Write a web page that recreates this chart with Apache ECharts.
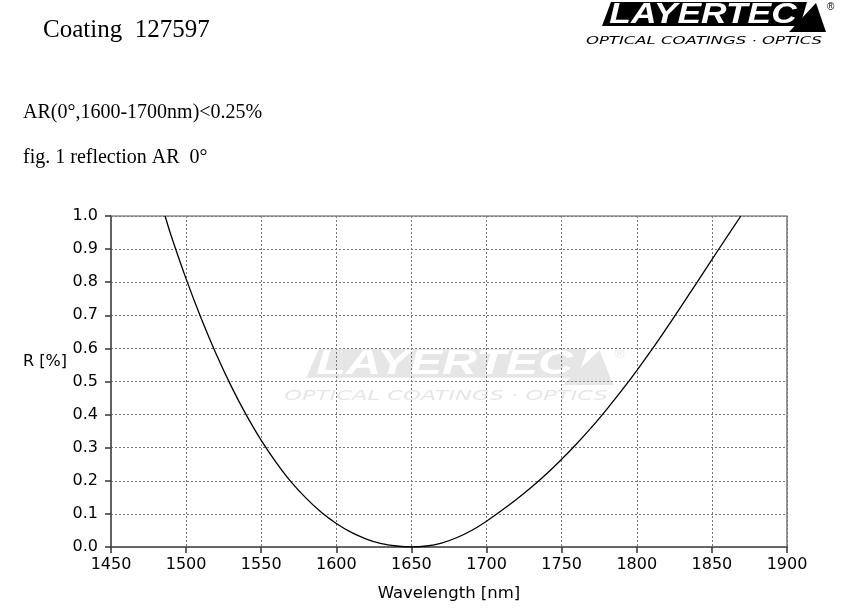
<!DOCTYPE html>
<html>
<head>
<meta charset="utf-8">
<script src="https://cdn.jsdelivr.net/npm/echarts@6/dist/echarts.min.js"></script>
<style>
html,body{margin:0;padding:0;background:#fff;}
#chart{width:843px;height:612px;}
</style>
</head>
<body>
<div id="chart"></div>
<script>
// ---- data ----
var wavelengths = [1486, 1490, 1500, 1510, 1520, 1530, 1540, 1550, 1560, 1570, 1580, 1590, 1600, 1610, 1620, 1630, 1640, 1650, 1660, 1670, 1680, 1690, 1700, 1710, 1720, 1730, 1740, 1750, 1760, 1770, 1780, 1790, 1800, 1810, 1820, 1830, 1840, 1850, 1860, 1869.3];
var reflectance = [1.0, 0.941, 0.81, 0.691, 0.583, 0.486, 0.399, 0.322, 0.255, 0.196, 0.147, 0.105, 0.071, 0.044, 0.024, 0.010, 0.003, 0.0, 0.003, 0.012, 0.028, 0.050, 0.078, 0.110, 0.144, 0.181, 0.221, 0.265, 0.312, 0.362, 0.416, 0.473, 0.533, 0.596, 0.662, 0.730, 0.799, 0.868, 0.937, 1.0];
var xTicks = [1450, 1500, 1550, 1600, 1650, 1700, 1750, 1800, 1850, 1900];
var yTicks = [0.0, 0.1, 0.2, 0.3, 0.4, 0.5, 0.6, 0.7, 0.8, 0.9, 1.0];
var titleText = 'Coating  127597';
var specText = 'AR(0°,1600-1700nm)<0.25%';
var figText = 'fig. 1 reflection AR  0°';
var xName = 'Wavelength [nm]';
var yName = 'R [%]';

var points = wavelengths.map(function (w, i) { return [w, reflectance[i]]; });

var chart = echarts.init(document.getElementById('chart'));

function logo(x, y, fill, textFill, z, sx, sy) {
  return {
    type: 'group', x: x, y: y, z: z, silent: true,
    scaleX: sx, scaleY: sy,
    children: [
      { type: 'polygon', z: z, shape: { points: [[18, 0], [214, 0], [207, 24], [9, 24]] }, style: { fill: fill } },
      { type: 'polygon', z: z, shape: { points: [[223, 1], [233, 30], [196, 30]] }, style: { fill: fill } },
      { type: 'text', z: z + 1, x: 110, y: 12.5, scaleX: 1.22, style: { text: 'LAYERTEC', fill: textFill, font: 'italic bold 29px "Liberation Sans"', align: 'center', verticalAlign: 'middle' } },
      { type: 'text', z: z, x: 234, y: 0, style: { text: '®', fill: fill, font: '10px "Liberation Sans"', align: 'left', verticalAlign: 'top' } },
      { type: 'text', z: z, x: 111, y: 39.5, scaleX: 1.5, style: { text: 'OPTICAL COATINGS · OPTICS', fill: fill, font: 'italic 11px "DejaVu Sans"', align: 'center', verticalAlign: 'middle' } }
    ]
  };
}

var option = {
  backgroundColor: '#ffffff',
  animation: false,
  grid: { left: 111, right: 56, top: 216, bottom: 65, show: true, borderColor: '#555', borderWidth: 1.2, backgroundColor: 'transparent' },
  graphic: [
    { type: 'text', left: 43, top: 18, style: { text: titleText, font: '25px "Liberation Serif"', fill: '#000' } },
    { type: 'text', left: 23, top: 103, style: { text: specText, font: '20px "Liberation Serif"', fill: '#000' } },
    { type: 'text', left: 23, top: 148, style: { text: figText, font: '20px "Liberation Serif"', fill: '#000' } },
    { type: 'text', left: 23, top: 354, style: { text: yName, font: '16px "DejaVu Sans"', fill: '#000' } },
    logo(593, 2, '#000', '#fff', 5, 1, 1),
    logo(294, 349, '#e6e6e6', '#fff', -10, 1.37, 1.2)
  ],
  xAxis: {
    type: 'value', min: 1450, max: 1900, interval: 50,
    name: xName, nameLocation: 'middle', nameGap: 38,
    nameTextStyle: { fontFamily: 'DejaVu Sans', fontSize: 16.5, color: '#000' },
    axisLine: { show: true, lineStyle: { color: '#555', width: 1.5 } },
    axisTick: { show: true, inside: false, length: 6, lineStyle: { color: '#333', width: 1.5 } },
    axisLabel: { margin: 10, fontFamily: 'DejaVu Sans', fontSize: 16, color: '#000',
      formatter: function (v) { return xTicks.indexOf(v) >= 0 ? String(v) : ''; } },
    splitLine: { show: true, lineStyle: { color: '#777', type: [2, 2], width: 1 } }
  },
  yAxis: {
    type: 'value', min: 0, max: 1, interval: 0.1,
    axisLine: { show: true, lineStyle: { color: '#555', width: 1.5 } },
    axisTick: { show: true, inside: false, length: 6, lineStyle: { color: '#333', width: 1.5 } },
    axisLabel: { margin: 13, fontFamily: 'DejaVu Sans', fontSize: 16, color: '#000',
      formatter: function (v) {
        for (var i = 0; i < yTicks.length; i++) { if (Math.abs(yTicks[i] - v) < 1e-9) return yTicks[i].toFixed(1); }
        return '';
      } },
    splitLine: { show: true, lineStyle: { color: '#777', type: [2, 2], width: 1 } }
  },
  series: [{
    type: 'line', data: points, smooth: 0.3, showSymbol: false, symbol: 'none',
    lineStyle: { color: '#000', width: 1.3 }, z: 3, clip: true
  }]
};
chart.setOption(option);
</script>
</body>
</html>
